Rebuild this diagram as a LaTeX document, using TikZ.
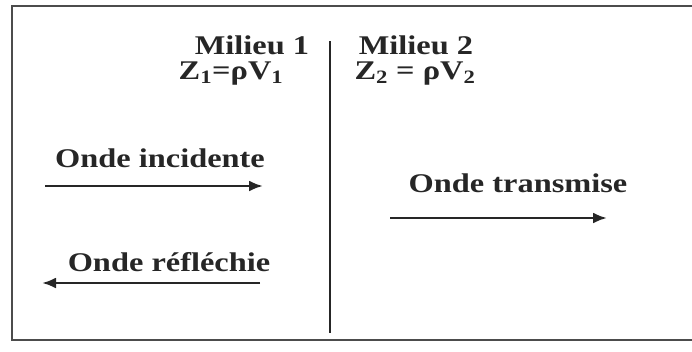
\documentclass[tikz,border=0pt]{standalone}
\usepackage{fontspec}
\setmainfont{Liberation Serif}
\usetikzlibrary{arrows.meta}
\tikzset{
  lbl/.style={font=\fontsize{27}{30}\selectfont\bfseries, inner sep=0pt, text=black!85},
  wave/.style={line width=2.6pt, draw=black!85, -{Latex[length=14pt,width=11pt]}},
  frame/.style={line width=2.2pt, draw=black!70}
}
\newcommand{\hs}[1]{\scalebox{1.2}[1]{#1}}
\begin{document}
\begin{tikzpicture}[x=1pt,y=-1pt]
\useasboundingbox (0,0) rectangle (692,351);
% frame (right side lies outside the picture)
\draw[frame] (700,6) -- (12,6) -- (12,340) -- (700,340);
% interface
\coordinate (it) at (330,41);
\coordinate (ib) at (330,333);
\draw[line width=2.8pt, draw=black!85] (it) -- (ib);
% labels
\node[lbl] (m1) at (252,45) {\hs{Milieu 1}};
\node[lbl] (z1) at (231,74) {\hs{Z\textsubscript{1}=ρV\textsubscript{1}}};
\node[lbl] (m2) at (416,45) {\hs{Milieu 2}};
\node[lbl] (z2) at (415,74) {\hs{Z\textsubscript{2} = ρV\textsubscript{2}}};
\node[lbl] (inc) at (160,158) {\hs{Onde incidente}};
\node[lbl] (ref) at (169,262) {\hs{Onde réfléchie}};
\node[lbl] (tra) at (518,183) {\hs{Onde transmise}};
% arrows
\coordinate (a1s) at (45,186);  \coordinate (a1e) at (263,186);
\coordinate (a2s) at (260,283); \coordinate (a2e) at (42,283);
\coordinate (a3s) at (390,218); \coordinate (a3e) at (607,218);
\draw[wave] (a1s) -- (a1e);
\draw[wave] (a2s) -- (a2e);
\draw[wave] (a3s) -- (a3e);
\end{tikzpicture}
\end{document}
